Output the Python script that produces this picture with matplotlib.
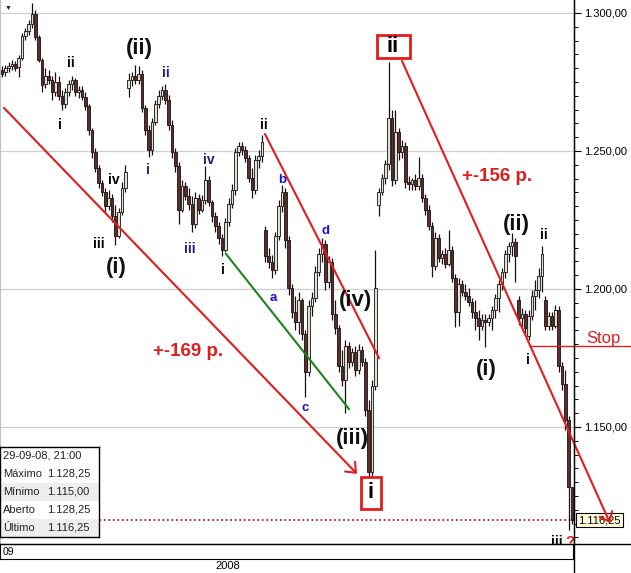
import matplotlib
matplotlib.use("Agg")
import matplotlib.pyplot as plt
from matplotlib.patches import Rectangle
from matplotlib.lines import Line2D
from matplotlib.ticker import MultipleLocator, FixedLocator, FuncFormatter

plt.rcParams["font.family"] = ["Liberation Sans", "DejaVu Sans"]

# ---- price data (one bar per entry) ----
OPEN = [
    1279.3, 1278.6, 1280.1, 1280.8, 1281.5, 1280.4, 1283.7, 1291.7, 1293.5, 1296.0,
    1299.6, 1291.3, 1283.0, 1274.3, 1277.2, 1275.7, 1271.4, 1275.0, 1269.9, 1267.0,
    1271.4, 1274.3, 1275.7, 1271.4, 1272.1, 1269.6, 1266.3, 1257.6, 1249.6, 1243.8,
    1238.4, 1235.1, 1230.1, 1233.0, 1226.4, 1219.2, 1227.9, 1236.6, 1272.8, 1275.7,
    1277.2, 1275.7, 1277.9, 1265.6, 1257.6, 1250.4, 1260.5, 1267.0, 1269.9, 1272.1,
    1268.5, 1259.4, 1249.6, 1244.6, 1228.6, 1237.3, 1233.7, 1230.8, 1223.5, 1233.0,
    1228.6, 1232.2, 1239.5, 1231.5, 1226.4, 1222.8, 1218.5, 1214.1, 1224.3, 1230.8,
    1235.9, 1249.6, 1251.8, 1250.4, 1247.4, 1240.2, 1235.9, 1246.7, 1248.2, 1221.4,
    1212.0, 1209.8, 1206.9, 1219.2, 1230.1, 1235.1, 1217.8, 1200.4, 1191.7, 1188.0,
    1196.0, 1183.7, 1169.9, 1193.8, 1196.7, 1206.2, 1212.7, 1216.3, 1202.5, 1209.8,
    1190.9, 1185.9, 1172.1, 1167.0, 1179.3, 1173.6, 1177.2, 1170.7, 1177.9, 1173.6,
    1156.2, 1133.7, 1164.9, 1230.4, 1235.1, 1240.2, 1245.3, 1262.0, 1239.5, 1256.9,
    1249.6, 1251.8, 1238.8, 1238.0, 1239.5, 1237.3, 1240.2, 1233.0, 1228.6, 1222.8,
    1208.3, 1218.5, 1211.2, 1212.7, 1209.1, 1214.1, 1204.0, 1191.7, 1201.8, 1198.9,
    1197.5, 1195.3, 1191.7, 1189.5, 1186.6, 1188.8, 1188.0, 1189.5, 1192.4, 1196.7,
    1201.8, 1206.2, 1212.7, 1215.6, 1217.0, 1196.0, 1189.5, 1190.9, 1183.0, 1190.2,
    1197.5, 1199.6, 1204.7, 1196.0, 1186.6, 1190.2, 1186.6, 1192.4, 1172.1, 1165.6,
    1152.5, 1128.25,
]
HIGH = [
    1280.8, 1281.1, 1282.2, 1283.0, 1282.6, 1284.8, 1292.7, 1294.6, 1297.5, 1303.6,
    1301.1, 1292.0, 1283.7, 1280.1, 1279.3, 1277.2, 1278.6, 1277.2, 1272.1, 1272.8,
    1275.7, 1277.2, 1276.4, 1273.5, 1273.5, 1271.4, 1267.0, 1258.3, 1251.1, 1244.9,
    1239.5, 1236.6, 1235.9, 1234.4, 1230.4, 1229.3, 1238.8, 1244.9, 1278.2, 1278.6,
    1281.1, 1280.8, 1279.3, 1266.7, 1259.4, 1262.0, 1268.5, 1272.1, 1273.5, 1274.3,
    1270.3, 1261.2, 1251.1, 1246.0, 1239.5, 1238.8, 1236.6, 1233.7, 1235.1, 1234.4,
    1234.1, 1244.6, 1240.9, 1232.2, 1227.9, 1224.3, 1219.9, 1225.7, 1233.0, 1238.0,
    1251.1, 1253.3, 1253.3, 1251.8, 1248.5, 1243.8, 1248.5, 1250.4, 1255.8, 1222.8,
    1214.9, 1212.3, 1220.6, 1232.2, 1237.7, 1236.6, 1219.2, 1201.8, 1197.5, 1198.9,
    1196.7, 1185.2, 1196.0, 1198.9, 1208.3, 1214.9, 1218.5, 1217.8, 1212.0, 1211.2,
    1196.0, 1187.0, 1177.9, 1181.5, 1180.8, 1178.6, 1179.3, 1180.1, 1179.3, 1175.0,
    1159.8, 1167.0, 1214.1, 1236.6, 1241.7, 1246.7, 1282.2, 1264.9, 1264.9, 1258.3,
    1254.0, 1253.3, 1240.9, 1240.2, 1241.7, 1247.8, 1241.7, 1234.4, 1230.4, 1224.3,
    1220.6, 1219.9, 1214.1, 1214.9, 1221.4, 1215.6, 1205.4, 1204.0, 1203.3, 1201.8,
    1200.4, 1196.7, 1196.0, 1192.4, 1190.9, 1190.9, 1190.9, 1193.8, 1198.2, 1203.3,
    1207.6, 1214.1, 1217.0, 1220.3, 1218.5, 1197.5, 1193.1, 1192.4, 1192.4, 1199.6,
    1203.3, 1207.6, 1215.6, 1197.5, 1191.7, 1191.7, 1194.2, 1193.8, 1173.6, 1170.7,
    1154.0, 1128.25,
]
LOW = [
    1276.8, 1277.2, 1278.6, 1279.3, 1279.0, 1276.8, 1283.0, 1290.2, 1292.0, 1294.6,
    1290.2, 1282.2, 1271.4, 1272.8, 1274.3, 1268.5, 1269.9, 1268.5, 1264.9, 1265.6,
    1269.9, 1272.1, 1269.9, 1269.2, 1268.5, 1264.9, 1255.8, 1247.4, 1242.4, 1236.6,
    1233.7, 1227.9, 1228.6, 1224.3, 1215.9, 1218.5, 1226.8, 1235.1, 1269.6, 1273.5,
    1274.3, 1274.3, 1264.1, 1255.8, 1247.8, 1248.5, 1259.4, 1265.6, 1268.5, 1267.0,
    1257.6, 1247.4, 1242.4, 1223.5, 1227.9, 1232.2, 1228.6, 1220.6, 1222.1, 1227.2,
    1227.9, 1230.8, 1230.1, 1224.3, 1220.6, 1216.3, 1212.0, 1213.4, 1222.8, 1229.3,
    1234.1, 1248.2, 1248.5, 1246.0, 1238.8, 1233.0, 1234.4, 1243.8, 1246.0, 1209.8,
    1207.6, 1204.0, 1205.4, 1217.8, 1227.9, 1214.9, 1197.8, 1189.5, 1185.2, 1183.7,
    1181.5, 1160.9, 1168.5, 1190.2, 1195.3, 1204.7, 1209.8, 1199.6, 1200.4, 1188.8,
    1183.7, 1169.9, 1164.9, 1155.1, 1171.4, 1172.1, 1168.5, 1169.2, 1172.1, 1154.0,
    1131.9, 1132.2, 1163.4, 1226.4, 1234.1, 1238.0, 1243.1, 1237.3, 1238.0, 1246.7,
    1247.4, 1236.6, 1235.9, 1235.9, 1235.9, 1235.9, 1231.5, 1226.8, 1221.4, 1204.3,
    1206.9, 1209.8, 1209.1, 1207.6, 1208.3, 1202.5, 1186.2, 1186.6, 1197.5, 1196.0,
    1193.8, 1189.5, 1185.2, 1181.5, 1185.2, 1179.0, 1186.6, 1185.2, 1189.5, 1191.7,
    1199.6, 1204.0, 1209.8, 1212.0, 1202.5, 1187.0, 1185.2, 1183.7, 1181.5, 1188.8,
    1192.4, 1196.7, 1198.9, 1185.2, 1185.2, 1185.2, 1185.9, 1169.9, 1163.4, 1148.9,
    1112.7, 1115.00,
]
CLOSE = [
    1277.9, 1280.1, 1280.8, 1281.5, 1280.1, 1283.7, 1291.7, 1293.5, 1296.0, 1299.6,
    1291.3, 1283.0, 1273.9, 1277.2, 1275.7, 1271.4, 1275.0, 1269.9, 1267.0, 1271.4,
    1274.3, 1275.7, 1271.4, 1272.1, 1269.6, 1266.3, 1257.6, 1249.6, 1243.8, 1238.4,
    1235.1, 1230.1, 1233.0, 1226.4, 1219.2, 1227.9, 1236.6, 1242.4, 1275.7, 1277.2,
    1275.7, 1277.9, 1265.6, 1257.6, 1250.4, 1260.5, 1267.0, 1269.9, 1272.1, 1268.5,
    1259.4, 1249.6, 1244.6, 1228.6, 1237.3, 1233.7, 1230.8, 1223.5, 1233.0, 1228.6,
    1232.2, 1239.5, 1231.5, 1226.4, 1222.8, 1218.5, 1214.1, 1224.3, 1230.8, 1235.9,
    1249.6, 1251.8, 1250.4, 1247.4, 1240.2, 1235.9, 1246.7, 1248.2, 1253.3, 1212.0,
    1209.8, 1206.9, 1219.2, 1230.1, 1235.1, 1217.8, 1200.4, 1191.7, 1188.0, 1196.0,
    1183.7, 1169.9, 1193.8, 1196.7, 1206.2, 1212.7, 1216.3, 1202.5, 1209.8, 1190.9,
    1185.9, 1172.1, 1167.0, 1179.3, 1173.6, 1177.2, 1170.7, 1177.9, 1173.6, 1156.2,
    1133.7, 1164.9, 1200.4, 1235.1, 1240.2, 1245.3, 1262.0, 1239.5, 1256.9, 1249.6,
    1251.8, 1238.8, 1238.0, 1239.5, 1237.3, 1240.2, 1233.0, 1228.6, 1222.8, 1208.3,
    1218.5, 1211.2, 1212.7, 1209.1, 1214.1, 1204.0, 1191.7, 1201.8, 1198.9, 1197.5,
    1195.3, 1191.7, 1189.5, 1186.6, 1188.8, 1188.0, 1189.5, 1192.4, 1196.7, 1201.8,
    1206.2, 1212.7, 1215.6, 1217.0, 1212.0, 1189.5, 1190.9, 1185.9, 1190.2, 1197.5,
    1199.6, 1204.7, 1212.7, 1186.6, 1190.2, 1186.6, 1192.4, 1172.1, 1165.6, 1152.5,
    1128.25, 1116.25,
]

PRICE_TICKS = [1150, 1200, 1250, 1300]
LAST_TIME = "29-09-08, 21:00"
STOP_LEVEL = 1179.3

# wave labels: text, bar index, price, kind
WAVE_LABELS = [
    ("i", 17.4, 1259.4, "minor"), ("ii", 20.7, 1281.9, "minor"),
    ("iv", 33.6, 1239.5, "minor"), ("iii", 29.1, 1216.3, "minor"),
    ("(i)", 34.2, 1207.6, "major"), ("(ii)", 41.1, 1287.3, "major"),
    ("ii", 49.2, 1278.2, "navy"), ("i", 43.8, 1243.1, "navy"),
    ("iv", 62.1, 1246.7, "navy"), ("iii", 56.4, 1214.5, "navy"),
    ("i", 66.3, 1206.9, "minor"), ("ii", 78.6, 1259.4, "minor"),
    ("b", 84.0, 1239.5, "abc"), ("d", 97.2, 1221.0, "abc"),
    ("a", 81.3, 1196.7, "abc"), ("c", 90.9, 1156.9, "abc"),
    ("(iv)", 106.2, 1196.0, "major"), ("(iii)", 105.0, 1145.7, "major"),
    ("(ii)", 154.2, 1223.2, "major"), ("ii", 162.6, 1219.6, "minor"),
    ("(i)", 145.2, 1170.9, "major"), ("i", 157.8, 1174.3, "minor"),
    ("iii", 166.4, 1108.2, "minor"),
]
BOXED_LABELS = [("i", 110.7, 1126.1, 20, 32), ("ii", 117.3, 1288.0, 33, 23)]

# trend lines: start, end, colour, arrow
TREND_LINES = [
    ((0.6, 1265.6), (106.5, 1133.0), "red", True),
    ((78.9, 1256.1), (113.1, 1175.0), "red", False),
    ((67.2, 1212.7), (104.1, 1156.5), "green", False),
    ((120.0, 1282.6), (182.4, 1115.2), "red", True),
]

RED = "#e21d1d"
NAVY = "#1d1d80"
BLUE = "#1515c8"
UP_FILL = "#dbe4d3"
DOWN_FILL = "#5e2d2d"

W, H = 631, 573
PX_X = 172.2 / 574      # bar units per pixel
PX_Y = 197.1 / 544      # price points per pixel


def fmt_br(v, _=None):
    s = f"{v:,.2f}"
    return s.replace(",", "X").replace(".", ",").replace("X", ".")


fig = plt.figure(figsize=(W / 100, H / 100), dpi=100)
fig.patch.set_facecolor("white")
ax = fig.add_axes([0, 29 / H, 574 / W, 544 / H])
ax.set_xlim(-0.6, 171.6)
ax.set_ylim(1107.6, 1304.7)

# candles
n = len(CLOSE)
for i in range(n):
    o, h, l, c = OPEN[i], HIGH[i], LOW[i], CLOSE[i]
    ax.vlines(i, l, h, color="#1a1010", lw=0.9, zorder=2)
    up = c > o
    ax.bar(i, max(abs(c - o), 0.4), bottom=min(o, c), width=0.78,
           color=UP_FILL if up else DOWN_FILL, edgecolor="#1a1010",
           linewidth=0.6, zorder=3)

# last price dotted line
ax.axhline(CLOSE[-1], color="#a02828", lw=1.3, ls=(0, (1, 1.5)), zorder=1)

# axis styling
ax.yaxis.tick_right()
ax.yaxis.set_major_locator(FixedLocator(PRICE_TICKS))
ax.yaxis.set_minor_locator(MultipleLocator(5))
ax.yaxis.set_major_formatter(FuncFormatter(fmt_br))
ax.tick_params(axis="y", which="major", length=5, width=0.8, labelsize=8,
               pad=2, colors="black")
ax.tick_params(axis="y", which="minor", length=3, width=0.7)
ax.set_xticks([])
ax.grid(axis="y", which="major", color="#cfcfcf", lw=0.9)
ax.set_axisbelow(True)
for side in ("top", "bottom"):
    ax.spines[side].set_visible(False)
ax.spines["left"].set_color("#c0c0c0")
ax.spines["right"].set_color("black")

# trend lines
for (x0, y0), (x1, y1), col, arrow in TREND_LINES:
    colour = RED if col == "red" else "#1a861a"
    if arrow:
        ax.annotate("", xy=(x1, y1), xytext=(x0, y0), annotation_clip=False,
                    arrowprops=dict(arrowstyle="->,head_length=0.6,head_width=0.5",
                                    color=colour, lw=1.5, shrinkA=0, shrinkB=0),
                    zorder=6)
    else:
        ax.plot([x0, x1], [y0, y1], color=colour, lw=1.5, zorder=5)

# stop line
ax.plot([158.4, 188.7], [STOP_LEVEL, STOP_LEVEL], color=RED, lw=1.0,
        clip_on=False, zorder=5)
ax.text(180.3, STOP_LEVEL + 2.9, "Stop", color=RED, fontsize=12,
        ha="center", va="center", clip_on=False)

# labels
styles = {
    "minor": dict(color="black", fontsize=10, fontweight="bold"),
    "navy": dict(color=NAVY, fontsize=10, fontweight="bold"),
    "abc": dict(color=BLUE, fontsize=9.5, fontweight="bold"),
    "major": dict(color="#111111", fontsize=16, fontweight="bold"),
}
for txt, x, y, kind in WAVE_LABELS:
    ax.text(x, y, txt, ha="center", va="center", zorder=7, clip_on=False,
            **styles[kind])
ax.text(170.4, 1108.2, "?", color=RED, fontsize=11, fontweight="bold",
        ha="center", va="center", clip_on=False, zorder=7)

for txt, x, y, wpx, hpx in BOXED_LABELS:
    ax.add_patch(Rectangle((x - wpx * PX_X / 2, y - hpx * PX_Y / 2),
                           wpx * PX_X, hpx * PX_Y, facecolor="white",
                           edgecolor=RED, lw=2, zorder=6))
    ax.text(x, y, txt, ha="center", va="center", fontsize=16,
            fontweight="bold", color="black", zorder=7)

ax.text(55.7, 1177.5, "+-169 p.", color=RED, fontsize=13.5, fontweight="bold",
        ha="center", va="center", zorder=7)
ax.text(148.5, 1240.6, "+-156 p.", color=RED, fontsize=13.5, fontweight="bold",
        ha="center", va="center", zorder=7)

# last price tag
ax.text(172.9, CLOSE[-1], fmt_br(CLOSE[-1]), ha="left", va="center",
        fontsize=8, clip_on=False, zorder=5,
        bbox=dict(boxstyle="square,pad=0.2", fc="#ffffe0", ec="black", lw=0.8))

ax.text(1.8, 1301.6, "\u25bc", fontsize=5, ha="center", va="center",
        color="#222222")

# frame lines outside the plot
fig.add_artist(Line2D([574 / W, 574 / W], [0, 1], color="black", lw=1))
fig.add_artist(Line2D([0, 1], [29 / H, 29 / H], color="black", lw=1))

# month strip
strip = fig.add_axes([0, 14 / H, 573 / W, 15 / H])
strip.set_xticks([])
strip.set_yticks([])
for s in strip.spines.values():
    s.set_color("black")
strip.text(0.004, 0.45, "09", fontsize=7.5, ha="left", va="center",
           transform=strip.transAxes)
fig.text(228 / W, 1 - 566 / H, "2008", fontsize=8, ha="center", va="center")

# info box
info = fig.add_axes([0, 36 / H, 99 / W, 90 / H])
info.set_xlim(0, 1)
info.set_ylim(0, 5)
info.set_xticks([])
info.set_yticks([])
for s in info.spines.values():
    s.set_color("black")
    s.set_linewidth(1)
rows = [
    (LAST_TIME, ""),
    ("Máximo", fmt_br(HIGH[-1])),
    ("Mínimo", fmt_br(LOW[-1])),
    ("Aberto", fmt_br(OPEN[-1])),
    ("Último", fmt_br(CLOSE[-1])),
]
for k, (lab, val) in enumerate(rows):
    yc = 4.5 - k
    if k in (2, 4):
        info.axhspan(yc - 0.5, yc + 0.5, color="#eeeeee", lw=0)
    info.text(0.03, yc, lab, fontsize=8, ha="left", va="center", color="#222222")
    if val:
        info.text(0.475, yc, val, fontsize=8, ha="left", va="center",
                  color="#222222")

fig.savefig("out.png", dpi=100)
